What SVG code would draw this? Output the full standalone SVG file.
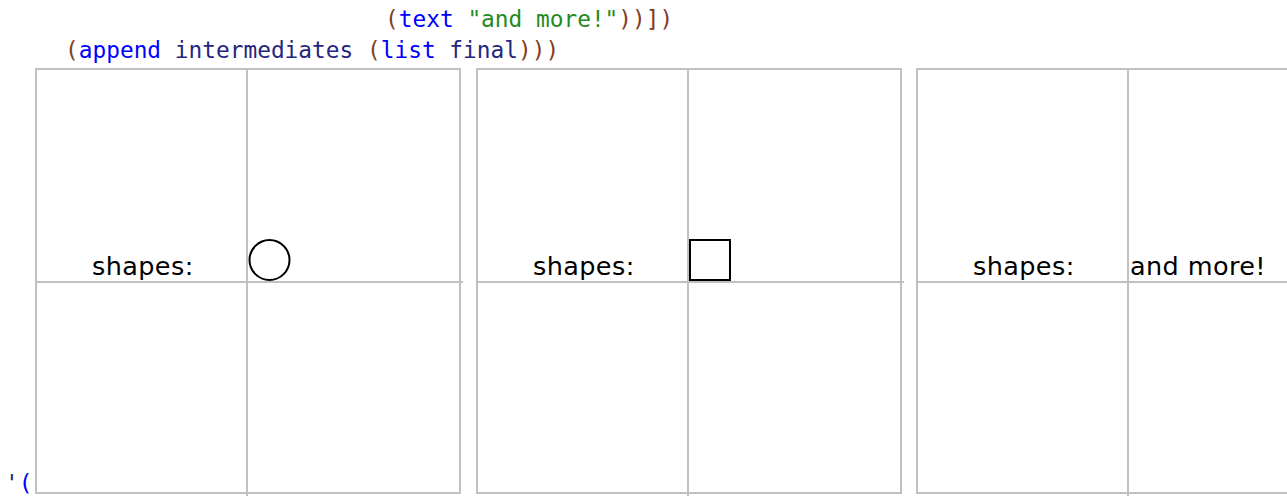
<svg xmlns="http://www.w3.org/2000/svg" width="1287" height="496" viewBox="0 0 1287 496">
<style>
.code{font-family:"DejaVu Sans Mono","Liberation Mono",monospace;font-size:22.8px;white-space:pre}
.p{fill:#843c24}.k{fill:#0000ff}.i{fill:#262680}.s{fill:#228b22}
.grid{fill:none;stroke:#c0c0c0;stroke-width:2}
.lbl{font-family:"DejaVu Sans",sans-serif;font-size:25.5px;fill:#000;letter-spacing:0.4px}
.shape{fill:none;stroke:#000;stroke-width:2}
</style>
<rect width="1287" height="496" fill="#fff"/>
<g id="code">
<text class="code" x="385" y="27" xml:space="preserve"><tspan class="p">(</tspan><tspan class="k">text</tspan><tspan class="i"> </tspan><tspan class="s">"and more!"</tspan><tspan class="p">))])</tspan></text>
<text class="code" x="65" y="58" xml:space="preserve"><tspan class="p">(</tspan><tspan class="k">append</tspan><tspan class="i"> intermediates </tspan><tspan class="p">(</tspan><tspan class="k">list</tspan><tspan class="i"> final</tspan><tspan class="p">)))</tspan></text>
<text class="code" x="5" y="491" xml:space="preserve"><tspan class="i">'</tspan><tspan class="k">(</tspan></text>
</g>
<g id="panel1">
<rect class="grid" x="36" y="69" width="424" height="424"/>
<line class="grid" x1="247" y1="69" x2="247" y2="496"/>
<line class="grid" x1="36" y1="282" x2="463" y2="282"/>
<text class="lbl" x="92" y="275">shapes:</text>
<circle class="shape" cx="269.5" cy="260" r="20"/>
</g>
<g id="panel2">
<rect class="grid" x="477" y="69" width="424" height="424"/>
<line class="grid" x1="688" y1="69" x2="688" y2="496"/>
<line class="grid" x1="477" y1="282" x2="904" y2="282"/>
<text class="lbl" x="533" y="275">shapes:</text>
<rect class="shape" x="690" y="240" width="40" height="40"/>
</g>
<g id="panel3">
<rect class="grid" x="917" y="69" width="424" height="424"/>
<line class="grid" x1="1128" y1="69" x2="1128" y2="496"/>
<line class="grid" x1="917" y1="282" x2="1344" y2="282"/>
<text class="lbl" x="973" y="275">shapes:</text>
<text class="lbl" x="1130" y="275">and more!</text>
</g>
<g id="connectors"/>
</svg>
